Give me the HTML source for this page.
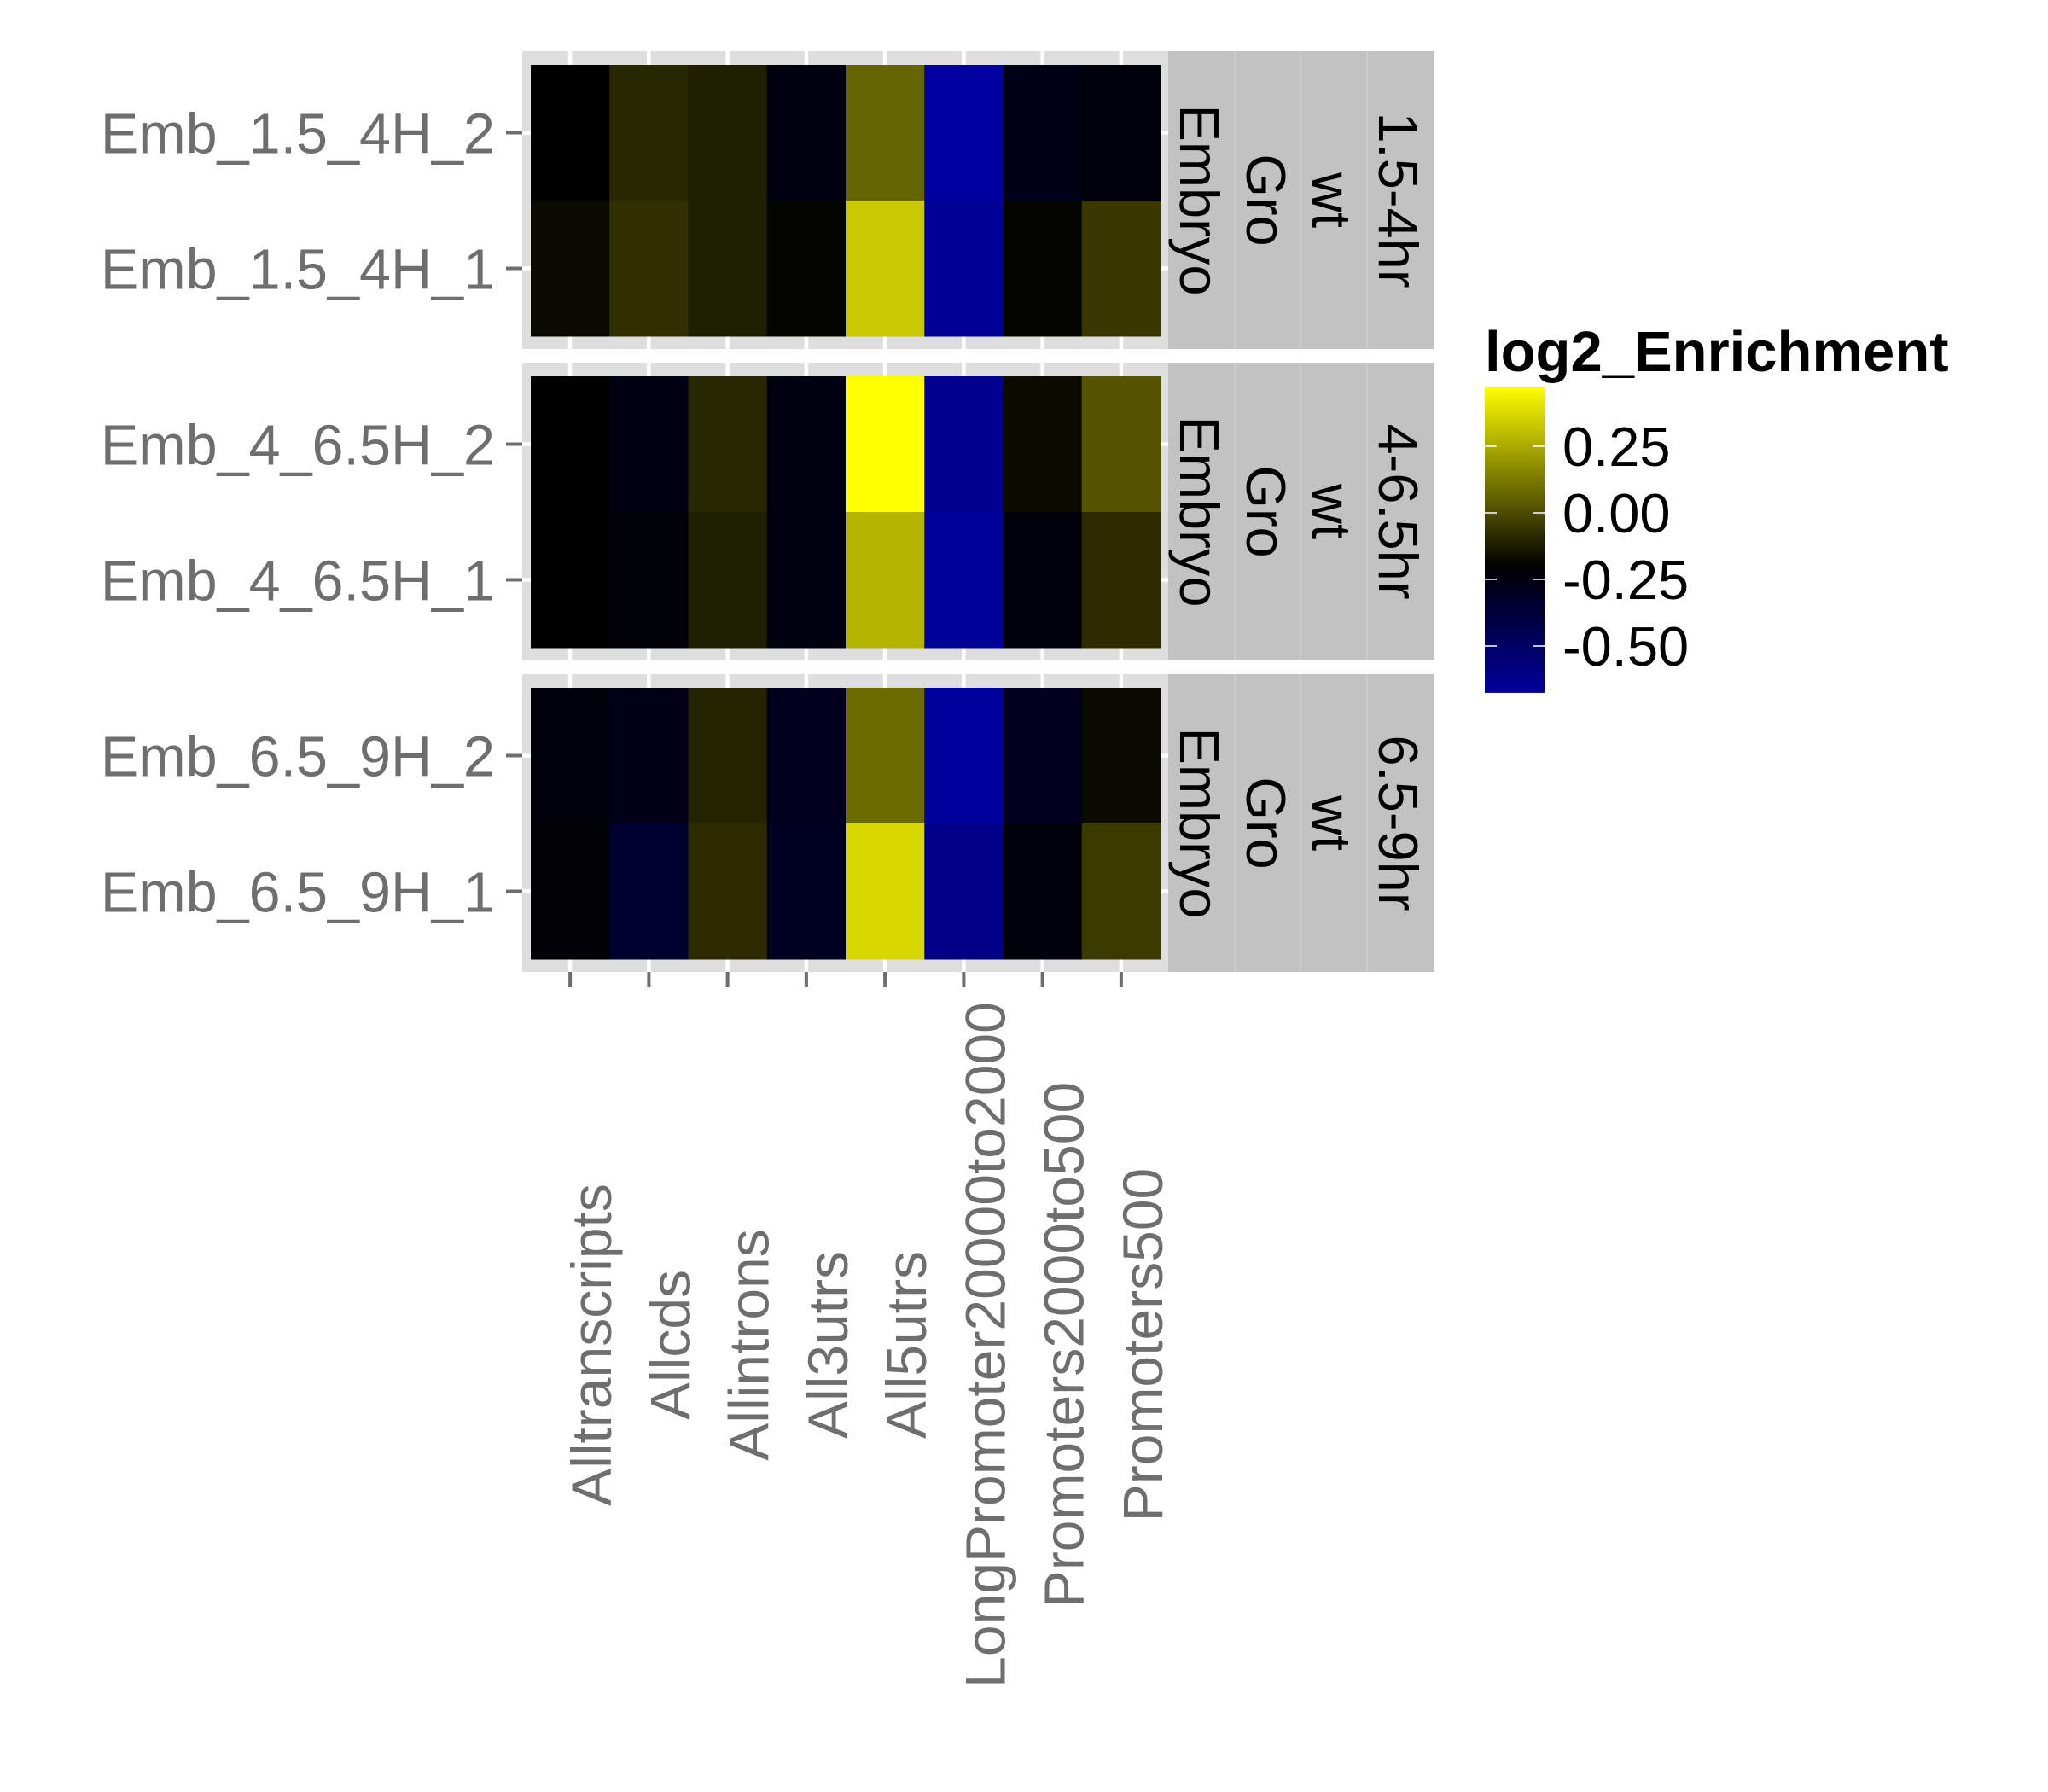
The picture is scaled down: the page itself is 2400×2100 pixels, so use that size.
<!DOCTYPE html>
<html><head><meta charset="utf-8"><style>
html,body{margin:0;padding:0;background:#fff}
svg{display:block}
</style></head><body>
<svg id="chart" width="2400" height="2100" viewBox="0 0 2400 2100" xmlns="http://www.w3.org/2000/svg" font-family="'Liberation Sans', Arial, sans-serif">
<defs><linearGradient id="cbar" x1="0" y1="1" x2="0" y2="0"></linearGradient></defs>
<g id="panels"></g>
<g id="xaxis"></g>
<g id="legend"></g>
</svg>
<script>
const categories = ["Alltranscripts","Allcds","Allintrons","All3utrs","All5utrs","LongPromoter20000to2000","Promoters2000to500","Promoters500"];
const facetLabels = ["1.5-4hr","4-6.5hr","6.5-9hr"];
const stripLabels = ["Embryo","Gro","wt"];
const rowLabels = [["Emb_1.5_4H_2","Emb_1.5_4H_1"],["Emb_4_6.5H_2","Emb_4_6.5H_1"],["Emb_6.5_9H_2","Emb_6.5_9H_1"]];
const valsP1top = [-0.2,-0.094,-0.121,-0.245,0.064,-0.676,-0.27,-0.23];
const valsP1bot = [-0.174,-0.073,-0.121,-0.187,0.329,-0.652,-0.187,-0.052];
const valsP2top = [-0.2,-0.254,-0.094,-0.248,0.474,-0.634,-0.171,0.025];
const valsP2bot = [-0.2,-0.22,-0.121,-0.245,0.276,-0.664,-0.23,-0.084];
const valsP3top = [-0.224,-0.272,-0.105,-0.29,0.083,-0.67,-0.29,-0.174];
const valsP3bot = [-0.215,-0.345,-0.084,-0.296,0.371,-0.61,-0.23,-0.044];
const legendTicks = [0.25,0.00,-0.25,-0.50];
const legendTickLabels = ["0.25","0.00","-0.25","-0.50"];
const vMin = -0.676, vMid = -0.2, vMax = 0.474;

const NS="http://www.w3.org/2000/svg";
function mk(tag, attrs, parent){const e=document.createElementNS(NS,tag);for(const k in attrs)e.setAttribute(k,attrs[k]);parent.appendChild(e);return e;}
function color(v){
  if(v>=vMid){const c=Math.round(255*Math.min(1,(v-vMid)/(vMax-vMid)));return `rgb(${c},${c},0)`;}
  const b=Math.round(158*Math.min(1,(vMid-v)/(vMid-vMin)));return `rgb(0,0,${b})`;
}
const X0=622, CW=92.25, BGX0=612, BGX1=1369, PSTEP=365, BGTOP=60, BGH=349, TOP=76, RH=159;
const xCenter = i => X0 + CW*(i+0.5);
const panelsData=[[valsP1top,valsP1bot],[valsP2top,valsP2bot],[valsP3top,valsP3bot]];
const gp=document.getElementById('panels');
panelsData.forEach((rows,p)=>{
  const g=mk('g',{},gp);
  
  
  const by=BGTOP+PSTEP*p;
  const bg=mk('rect',{x:BGX0,y:by,width:BGX1-BGX0,height:BGH,fill:'#dedede'},g);
  
  
  categories.forEach((c,i)=>{mk('line',{x1:xCenter(i),x2:xCenter(i),y1:by,y2:by+BGH,stroke:'#fff','stroke-width':4.5},g);});
  rows.forEach((vals,r)=>{
    const cy=TOP+PSTEP*p+RH*(r+0.5);
    mk('line',{x1:BGX0,x2:BGX1,y1:cy,y2:cy,stroke:'#fff','stroke-width':4.5},g);
  });
  rows.forEach((vals,r)=>{
    const ty=TOP+PSTEP*p+RH*r;
    vals.forEach((v,i)=>{
      const t=mk('rect',{x:X0+CW*i,y:ty,width:CW+0.5,height:RH+0.5,fill:color(v)},g);
      
      
    });
    const cy=ty+RH/2;
    mk('line',{x1:593,x2:612,y1:cy,y2:cy,stroke:'#6e6e6e','stroke-width':4},g);
    const lab=mk('text',{x:580,y:cy+24,'text-anchor':'end','font-size':66.5,fill:'#6e6e6e'},g);
    lab.textContent=rowLabels[p][r];
    
    
  });
  const sg=mk('g',{},g);
  
  
  mk('rect',{x:1369,y:by,width:311,height:BGH,fill:'#c2c2c2'},sg);
  [1447,1524,1602].forEach(x=>mk('line',{x1:x,x2:x,y1:by,y2:by+BGH,stroke:'#cfcfcf','stroke-width':1.5},sg));
  const labs=[stripLabels[0],stripLabels[1],stripLabels[2],facetLabels[p]];
  const cols=[1369,1447,1524,1602];
  labs.forEach((s,k)=>{
    const bx=cols[k]+14, cy=by+BGH/2;
    const t=mk('text',{x:0,y:0,'text-anchor':'middle','font-size':65,fill:'#000',transform:`translate(${bx},${cy}) rotate(90)`},sg);
    t.textContent=s;
    
    
  });
});
const gx=document.getElementById('xaxis');
const axisBottom=BGTOP+PSTEP*2+BGH;
categories.forEach((c,i)=>{
  const x=xCenter(i);
  mk('line',{x1:x,x2:x,y1:axisBottom,y2:axisBottom+18,stroke:'#6e6e6e','stroke-width':4},gx);
  const t=mk('text',{x:0,y:0,'text-anchor':'middle','font-size':66,fill:'#6e6e6e',transform:`translate(${x+48},1576) rotate(-90)`},gx);
  t.textContent=c;
  
  
});
const gl=document.getElementById('legend');
const vy = v => 601 - v*312;
const grad=document.getElementById('cbar');
for(let k=0;k<=40;k++){const v=vMin+(vMax-vMin)*k/40;mk('stop',{offset:(k/40),'stop-color':color(v)},grad);}
const title=mk('text',{x:1740,y:435,'font-size':67,'font-weight':'bold',fill:'#000'},gl);
title.textContent='log2_Enrichment';


const bar=mk('rect',{x:1740,y:vy(vMax),width:70,height:vy(vMin)-vy(vMax),fill:'url(#cbar)'},gl);


legendTicks.forEach((v,k)=>{
  const y=vy(v);
  mk('line',{x1:1740,x2:1754,y1:y,y2:y,stroke:'#fff','stroke-width':1.5},gl);
  mk('line',{x1:1796,x2:1810,y1:y,y2:y,stroke:'#fff','stroke-width':1.5},gl);
  const t=mk('text',{x:1831,y:y+23,'font-size':65,fill:'#000'},gl);
  t.textContent=legendTickLabels[k];
  
  
});
</script>
</body></html>
